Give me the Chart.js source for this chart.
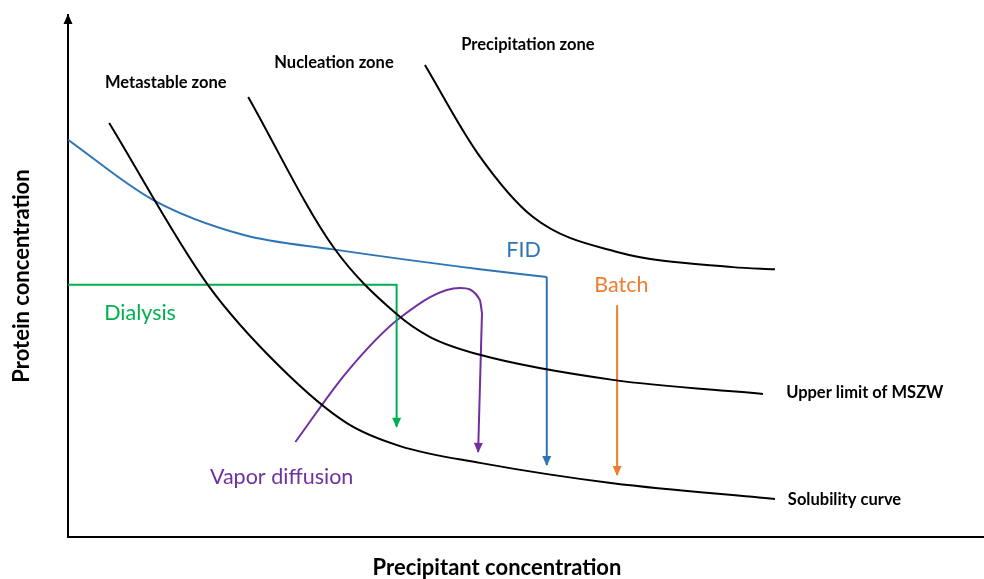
<!DOCTYPE html>
<html>
<head>
<meta charset="utf-8">
<script src="https://cdn.jsdelivr.net/npm/chart.js@4.4.0/dist/chart.umd.min.js"></script>
<style>
  html, body { margin: 0; padding: 0; background: #fff; }
</style>
</head>
<body>
<canvas id="grafico" width="984" height="579"></canvas>
<script>
// arbitrary units, 0-100 on both axes
// x = precipitant concentration, y = protein concentration
const solubilityX = [4.8, 16.3, 24.7, 32.5, 38.7, 48.0, 63.5, 82.4];
const solubilityY = [79.3, 48.3, 32.6, 21.8, 17.4, 14.2, 10.3, 7.3];

const mszwX = [21.0, 30.9, 38.3, 42.2, 48.0, 63.5, 81.0];
const mszwY = [84.3, 55.6, 42.7, 38.3, 34.9, 30.1, 27.4];

const precipX = [41.6, 47.7, 54.2, 64.0, 77.5, 82.4];
const precipY = [90.4, 73.6, 61.3, 54.6, 51.7, 51.3];

const fidX = [0, 9.9, 20.4, 30.9, 48.0, 55.8];
const fidY = [76.1, 64.6, 57.9, 55.1, 51.3, 49.8];
const fidDropX = [55.8, 55.8];
const fidDropY = [49.8, 13.8];

const dialysisX = [0, 38.3, 38.3];
const dialysisY = [48.3, 48.3, 21.1];

const vaporX = [26.5, 32.5, 38.7, 45.7, 48.0, 48.25];
const vaporY = [18.2, 31.6, 42.0, 47.7, 45.4, 42.9];
const vaporDropX = [48.25, 47.8];
const vaporDropY = [42.9, 16.3];

const batchX = [64.0, 64.0];
const batchY = [44.4, 11.9];

const BLACK = "#000000";
const BLUE = "#2e75b6";
const GREEN = "#00b050";
const PURPLE = "#7030a0";
const ORANGE = "#ed7d31";

function pts(xs, ys) {
  return xs.map((x, i) => ({ x: x, y: ys[i] }));
}

function serie(label, xs, ys, color, smooth, arrow) {
  return {
    label: label,
    data: pts(xs, ys),
    showLine: true,
    borderColor: color,
    backgroundColor: color,
    borderWidth: 2,
    pointRadius: 0,
    cubicInterpolationMode: smooth ? "monotone" : "default",
    tension: 0,
    arrow: arrow,
  };
}

// text on the plot: [text, x, y, color, bold, align]
const labels = [
  ["Metastable zone", 11.4, 87.0, BLACK, true, "center"],
  ["Nucleation zone", 31.0, 90.8, BLACK, true, "center"],
  ["Precipitation zone", 53.6, 94.4, BLACK, true, "center"],
  ["Upper limit of MSZW", 83.7, 27.6, BLACK, true, "left"],
  ["Solubility curve", 83.9, 7.1, BLACK, true, "left"],
  ["FID", 53.1, 55.0, BLUE, false, "center"],
  ["Batch", 64.5, 48.3, ORANGE, false, "center"],
  ["Dialysis", 8.4, 42.9, GREEN, false, "center"],
  ["Vapor diffusion", 24.9, 11.5, PURPLE, false, "center"],
];

const extras = {
  id: "extras",
  afterDatasetsDraw(chart) {
    const { ctx, chartArea: a, scales } = chart;
    ctx.save();

    // x axis goes on to the edge, y axis gets an arrow
    ctx.strokeStyle = BLACK;
    ctx.lineWidth = 2;
    ctx.beginPath();
    ctx.moveTo(a.right - 1, a.bottom);
    ctx.lineTo(chart.width, a.bottom);
    ctx.stroke();
    ctx.fillStyle = BLACK;
    ctx.beginPath();
    ctx.moveTo(a.left, a.top - 1);
    ctx.lineTo(a.left - 4.5, a.top + 9);
    ctx.lineTo(a.left + 4.5, a.top + 9);
    ctx.closePath();
    ctx.fill();

    // arrow heads at the end of the paths
    chart.data.datasets.forEach((ds, i) => {
      if (!ds.arrow) return;
      const p = chart.getDatasetMeta(i).data;
      const p1 = p[p.length - 2];
      const p2 = p[p.length - 1];
      const ang = Math.atan2(p2.y - p1.y, p2.x - p1.x);
      ctx.save();
      ctx.translate(p2.x, p2.y);
      ctx.rotate(ang);
      ctx.fillStyle = ds.borderColor;
      ctx.beginPath();
      ctx.moveTo(1, 0);
      ctx.lineTo(-9, -4.5);
      ctx.lineTo(-9, 4.5);
      ctx.closePath();
      ctx.fill();
      ctx.restore();
    });

    ctx.textBaseline = "middle";
    labels.forEach(([t, x, y, c, bold, align]) => {
      ctx.fillStyle = c;
      ctx.textAlign = align;
      ctx.font = bold ? "bold 16.5px Lato" : "21.5px Lato";
      ctx.fillText(t, scales.x.getPixelForValue(x), scales.y.getPixelForValue(y));
    });
    ctx.restore();
  },
};

new Chart(document.getElementById("grafico"), {
  type: "scatter",
  data: {
    datasets: [
      serie("Solubility curve", solubilityX, solubilityY, BLACK, true, false),
      serie("Upper limit of MSZW", mszwX, mszwY, BLACK, true, false),
      serie("Precipitation zone", precipX, precipY, BLACK, true, false),
      serie("FID", fidX, fidY, BLUE, true, false),
      serie("FID drop", fidDropX, fidDropY, BLUE, false, true),
      serie("Dialysis", dialysisX, dialysisY, GREEN, false, true),
      serie("Vapor diffusion", vaporX, vaporY, PURPLE, true, false),
      serie("Vapor diffusion drop", vaporDropX, vaporDropY, PURPLE, false, true),
      serie("Batch", batchX, batchY, ORANGE, false, true),
    ],
  },
  options: {
    responsive: false,
    animation: false,
    layout: { padding: { top: 15, right: 58, bottom: 0, left: 0 }, autoPadding: false },
    plugins: { legend: { display: false }, tooltip: { enabled: false } },
    scales: {
      x: {
        type: "linear",
        min: 0,
        max: 100,
        ticks: { display: false },
        grid: { display: false, drawTicks: false },
        border: { display: true, color: BLACK, width: 2 },
        title: {
          display: true,
          text: "Precipitant concentration",
          color: BLACK,
          font: { family: "Lato", size: 22, weight: "bold", lineHeight: 1 },
          padding: { top: 20, bottom: 0 },
        },
      },
      y: {
        type: "linear",
        min: 0,
        max: 100,
        ticks: { display: false },
        grid: { display: false, drawTicks: false },
        border: { display: true, color: BLACK, width: 2 },
        title: {
          display: true,
          text: "Protein concentration",
          color: BLACK,
          font: { family: "Lato", size: 22, weight: "bold", lineHeight: 1 },
          padding: { top: 11, bottom: 35 },
        },
      },
    },
  },
  plugins: [extras],
});
</script>
</body>
</html>
